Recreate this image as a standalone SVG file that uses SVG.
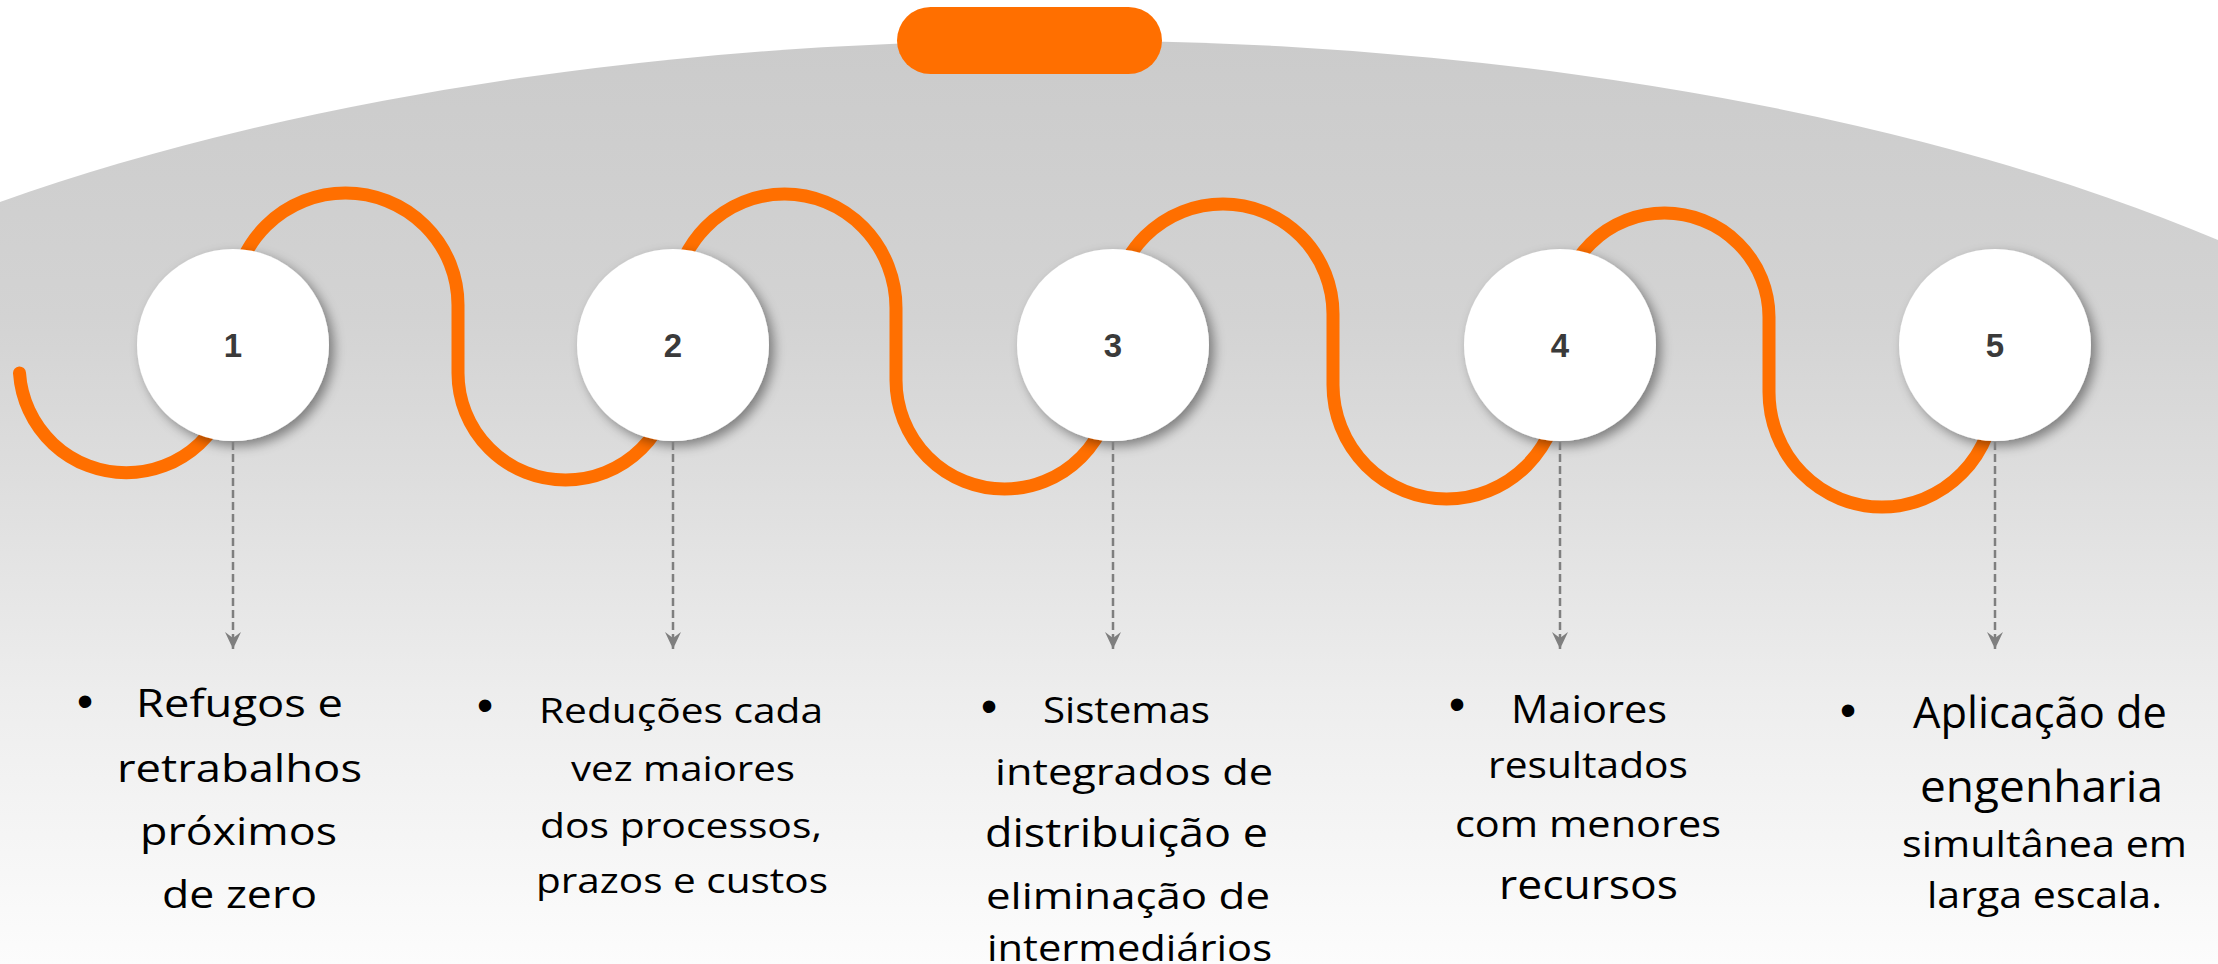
<svg xmlns="http://www.w3.org/2000/svg" width="2218" height="964" viewBox="0 0 2218 964">
  <defs>
    <linearGradient id="bgGrad" x1="0" y1="40" x2="0" y2="964" gradientUnits="userSpaceOnUse">
      <stop offset="0" stop-color="#cbcbcb"/>
      <stop offset="0.3" stop-color="#d3d3d3"/>
      <stop offset="0.48" stop-color="#dedede"/>
      <stop offset="0.72" stop-color="#eeeeee"/>
      <stop offset="1" stop-color="#fcfcfc"/>
    </linearGradient>
    <filter id="shadow" x="-30%" y="-30%" width="160%" height="160%">
      <feDropShadow dx="5" dy="5" stdDeviation="6" flood-color="#000" flood-opacity="0.42"/>
    </filter>
    <marker id="arrow" viewBox="0 -9 18 18" refX="17" refY="0" markerWidth="18" markerHeight="18" markerUnits="userSpaceOnUse" orient="auto">
      <path d="M0,-8 L17,0 L0,8 L6,0 Z" fill="#7f7f7f"/>
    </marker>
    <style>
      .wave { fill: none; stroke: #ff6f00; stroke-width: 13; stroke-linecap: round; stroke-linejoin: round; }
      .disc { fill: #ffffff; filter: url(#shadow); }
      .num { font-family: "Liberation Sans", Arial, sans-serif; font-weight: bold; font-size: 33px; fill: #3a3a3a; text-anchor: middle; }
      .dash { fill: none; stroke: #7f7f7f; stroke-width: 2.5; stroke-dasharray: 8 4; marker-end: url(#arrow); }
      .lbl { font-family: "Open Sans", "Noto Sans", sans-serif; fill: #000000; text-anchor: middle; }
      .bul { font-family: "Liberation Sans", Arial, sans-serif; font-size: 46px; fill: #000000; text-anchor: middle; }
    </style>
  </defs>

  <g id="background">
    <rect x="0" y="0" width="2218" height="964" fill="#ffffff"/>
    <path d="M0,964 L0,202 A1600,645 0 0 1 2218,240 L2218,964 Z" fill="url(#bgGrad)"/>
    <rect x="897" y="7" width="265" height="67" rx="33.5" fill="#ff6f00"/>
  </g>

  <g id="wave">
    <path class="wave" d="M19.5,373 A107,107 0 0 0 233,373 L233,305 A112.5,112 0 0 1 458,305 L458,373 A107.5,107 0 0 0 673,373 L673,308 A111.5,114 0 0 1 896,308 L896,380 A108.5,109 0 0 0 1113,380 L1113,314 A110,110 0 0 1 1333,314 L1333,385 A113.5,114 0 0 0 1560,385 L1560,317 A104.5,104 0 0 1 1769,317 L1769,392 A113,115 0 0 0 1995,392 L1995,345"/>
  </g>

  <g id="node-1">
    <circle class="disc" cx="233" cy="345" r="96"/>
    <text class="num" x="233" y="357">1</text>
  </g>
  <g id="node-2">
    <circle class="disc" cx="673" cy="345" r="96"/>
    <text class="num" x="673" y="357">2</text>
  </g>
  <g id="node-3">
    <circle class="disc" cx="1113" cy="345" r="96"/>
    <text class="num" x="1113" y="357">3</text>
  </g>
  <g id="node-4">
    <circle class="disc" cx="1560" cy="345" r="96"/>
    <text class="num" x="1560" y="357">4</text>
  </g>
  <g id="node-5">
    <circle class="disc" cx="1995" cy="345" r="96"/>
    <text class="num" x="1995" y="357">5</text>
  </g>

  <g id="connectors">
    <path class="dash" d="M233,442 L233,649"/>
    <path class="dash" d="M673,442 L673,649"/>
    <path class="dash" d="M1113,442 L1113,649"/>
    <path class="dash" d="M1560,442 L1560,649"/>
    <path class="dash" d="M1995,442 L1995,649"/>
  </g>

  <g id="label-1">
    <text class="bul" x="85" y="717">•</text>
    <text class="lbl" font-size="39" x="239.5" y="717" textLength="207" lengthAdjust="spacingAndGlyphs">Refugos e</text>
    <text class="lbl" font-size="39" x="239.5" y="782" textLength="245" lengthAdjust="spacingAndGlyphs">retrabalhos</text>
    <text class="lbl" font-size="39" x="238.5" y="845" textLength="197" lengthAdjust="spacingAndGlyphs">próximos</text>
    <text class="lbl" font-size="39" x="239.5" y="908" textLength="155" lengthAdjust="spacingAndGlyphs">de zero</text>
  </g>

  <g id="label-2">
    <text class="bul" x="485" y="721">•</text>
    <text class="lbl" font-size="34" x="681" y="723" textLength="284" lengthAdjust="spacingAndGlyphs">Reduções cada</text>
    <text class="lbl" font-size="34" x="683" y="781" textLength="224" lengthAdjust="spacingAndGlyphs">vez maiores</text>
    <text class="lbl" font-size="34" x="681" y="838" textLength="282" lengthAdjust="spacingAndGlyphs">dos processos,</text>
    <text class="lbl" font-size="34" x="682" y="893" textLength="292" lengthAdjust="spacingAndGlyphs">prazos e custos</text>
  </g>

  <g id="label-3">
    <text class="bul" x="989" y="722">•</text>
    <text class="lbl" font-size="36" x="1126.5" y="723" textLength="167" lengthAdjust="spacingAndGlyphs">Sistemas</text>
    <text class="lbl" font-size="36" x="1134" y="785" textLength="278" lengthAdjust="spacingAndGlyphs">integrados de</text>
    <text class="lbl" font-size="40" x="1126.5" y="847" textLength="283" lengthAdjust="spacingAndGlyphs">distribuição e</text>
    <text class="lbl" font-size="36" x="1128" y="909" textLength="284" lengthAdjust="spacingAndGlyphs">eliminação de</text>
    <text class="lbl" font-size="36" x="1129.5" y="961" textLength="285" lengthAdjust="spacingAndGlyphs">intermediários</text>
  </g>

  <g id="label-4">
    <text class="bul" x="1457" y="720">•</text>
    <text class="lbl" font-size="39" x="1589" y="723" textLength="156" lengthAdjust="spacingAndGlyphs">Maiores</text>
    <text class="lbl" font-size="37" x="1588" y="778" textLength="200" lengthAdjust="spacingAndGlyphs">resultados</text>
    <text class="lbl" font-size="36" x="1588" y="837" textLength="266" lengthAdjust="spacingAndGlyphs">com menores</text>
    <text class="lbl" font-size="40" x="1588.5" y="899" textLength="179" lengthAdjust="spacingAndGlyphs">recursos</text>
  </g>

  <g id="label-5">
    <text class="bul" x="1848" y="726">•</text>
    <text class="lbl" font-size="44" x="2040" y="728" textLength="254" lengthAdjust="spacingAndGlyphs">Aplicação de</text>
    <text class="lbl" font-size="44" x="2041.5" y="802" textLength="243" lengthAdjust="spacingAndGlyphs">engenharia</text>
    <text class="lbl" font-size="37" x="2044.5" y="857" textLength="285" lengthAdjust="spacingAndGlyphs">simultânea em</text>
    <text class="lbl" font-size="37" x="2044.5" y="908" textLength="235" lengthAdjust="spacingAndGlyphs">larga escala.</text>
  </g>
</svg>
